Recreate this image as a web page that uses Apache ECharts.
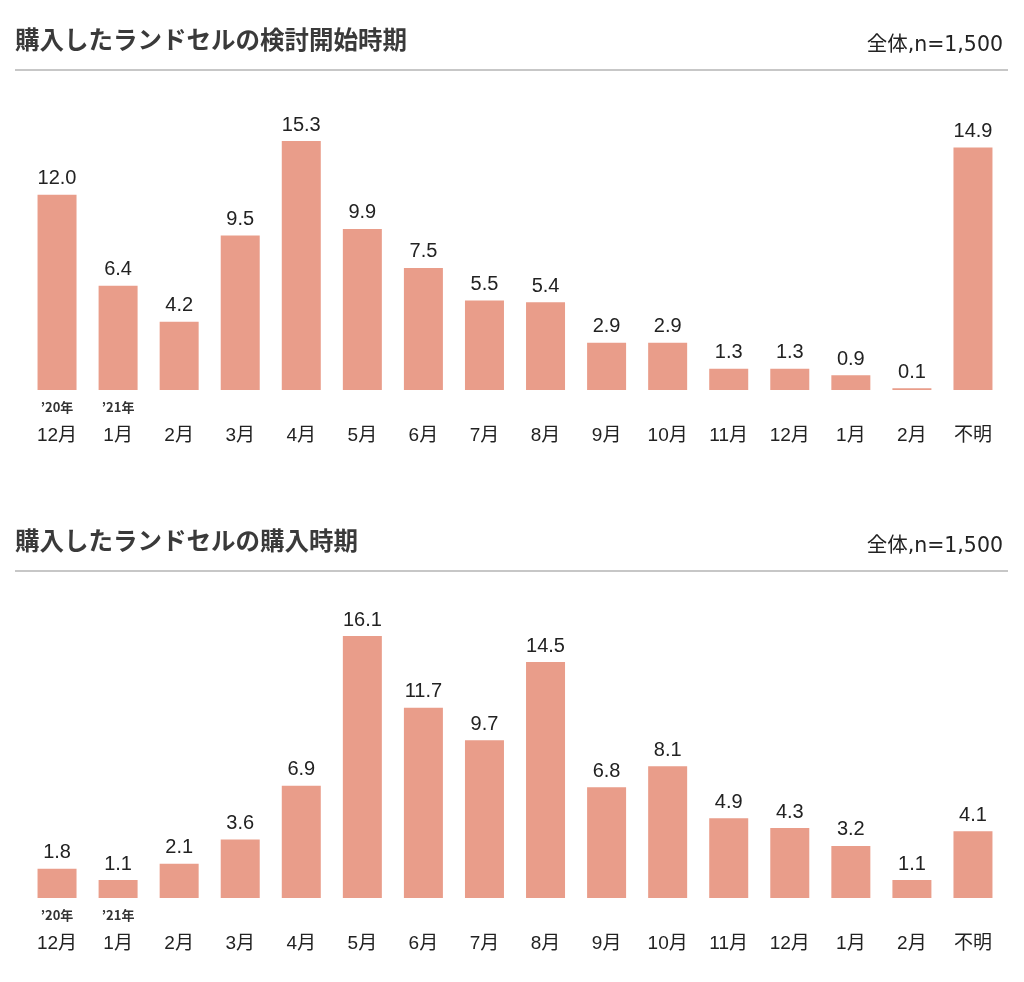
<!DOCTYPE html>
<html><head><meta charset="utf-8">
<script src="https://cdn.jsdelivr.net/npm/echarts@6/dist/echarts.min.js"></script>
<style>html,body{margin:0;padding:0;background:#fff}#c{width:1024px;height:982px}</style>
</head><body><div id="c"></div>
<script>
const categories = ['12月','1月','2月','3月','4月','5月','6月','7月','8月','9月','10月','11月','12月','1月','2月','不明'];
const yearTags = ['’20年','’21年','','','','','','','','','','','','','',''];
const considerStart = [12.0,6.4,4.2,9.5,15.3,9.9,7.5,5.5,5.4,2.9,2.9,1.3,1.3,0.9,0.1,14.9];
const purchaseTime = [1.8,1.1,2.1,3.6,6.9,16.1,11.7,9.7,14.5,6.8,8.1,4.9,4.3,3.2,1.1,4.1];
const titles = ['購入したランドセルの検討開始時期','購入したランドセルの購入時期'];
const sampleNote = '全体,n=1,500';

const FONT = '"Liberation Sans","Noto Sans CJK JP",sans-serif';
const NOTEFONT = '"DejaVu Sans","Noto Sans CJK JP",sans-serif';
const JP = '"Noto Sans CJK JP",sans-serif';
const BAR = '#E99D8A';
const H = 17 * 16.27;
const chart = echarts.init(document.getElementById('c'), null, {renderer:'canvas'});

function xAxis(i){
  return {
    type:'category', gridIndex:i, data:categories,
    axisLine:{show:false}, axisTick:{show:false},
    axisLabel:{
      interval:0, margin:6,
      formatter:(v,idx)=>'{y|'+(yearTags[idx]||' ')+'}\n{m|'+v+'}',
      rich:{
        y:{fontSize:13, fontWeight:'bold', color:'#333', lineHeight:22, fontFamily:JP},
        m:{fontSize:19, color:'#222', lineHeight:36, fontFamily:FONT}
      }
    }
  };
}
function yAxis(i){
  return {type:'value', gridIndex:i, min:0, max:17, show:false, splitLine:{show:false}};
}
function series(i, data){
  return {
    type:'bar', xAxisIndex:i, yAxisIndex:i, data:data, barWidth:39,
    itemStyle:{color:BAR},
    label:{show:true, position:'top', distance:6, color:'#222', fontSize:20, fontFamily:FONT,
      formatter:p=>p.value.toFixed(1)},
    silent:true
  };
}

chart.setOption({
  animation:false,
  title:[
    {text:titles[0], left:10, top:22, textStyle:{fontSize:24.5, fontWeight:'bold', color:'#3a3a3a', fontFamily:JP}},
    {text:sampleNote, right:16, top:30, textStyle:{fontSize:20.5, fontWeight:'normal', color:'#222', fontFamily:NOTEFONT}},
    {text:titles[1], left:10, top:523, textStyle:{fontSize:24.5, fontWeight:'bold', color:'#3a3a3a', fontFamily:JP}},
    {text:sampleNote, right:16, top:531, textStyle:{fontSize:20.5, fontWeight:'normal', color:'#222', fontFamily:NOTEFONT}}
  ],
  graphic:[
    {type:'line', shape:{x1:15,y1:70,x2:1008,y2:70}, style:{stroke:'#b5b5b5', lineWidth:1.5}},
    {type:'line', shape:{x1:15,y1:571,x2:1008,y2:571}, style:{stroke:'#b5b5b5', lineWidth:1.5}}
  ],
  grid:[
    {left:26.5, width:977, top:390-H, height:H},
    {left:26.5, width:977, top:898-H, height:H}
  ],
  xAxis:[xAxis(0), xAxis(1)],
  yAxis:[yAxis(0), yAxis(1)],
  series:[series(0, considerStart), series(1, purchaseTime)]
});
</script></body></html>
